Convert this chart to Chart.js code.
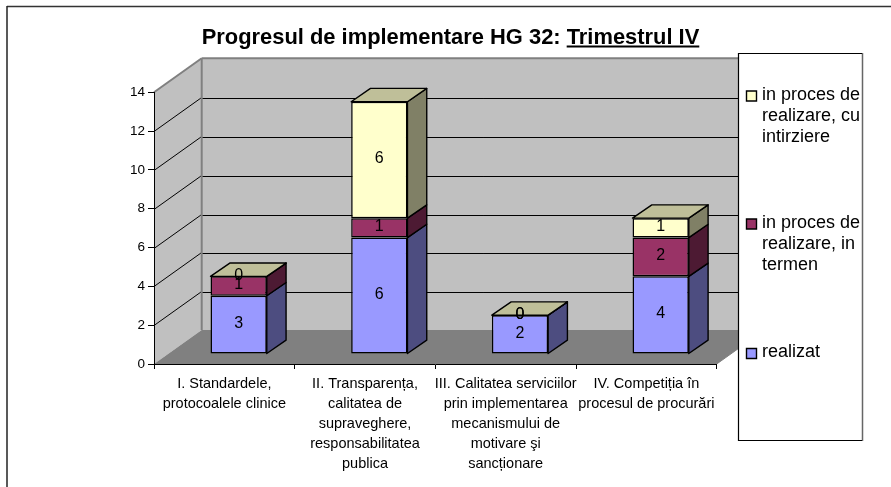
<!DOCTYPE html>
<html lang="ro">
<head>
    <meta charset="utf-8">
    <title>Progresul de implementare HG 32</title>
    <script src="https://cdn.jsdelivr.net/npm/chart.js"></script>
    <style>
        body { margin: 0; background: #fff; }
        canvas { display: block; }
    </style>
</head>
<body>
    <canvas id="chartCanvas" width="891" height="487"></canvas>
    <script>
        // chart data
        const categories = [
            ['I. Standardele,', 'protocoalele clinice'],
            ['II. Transparența,', 'calitatea de', 'supraveghere,', 'responsabilitatea', 'publica'],
            ['III. Calitatea serviciilor', 'prin implementarea', 'mecanismului de', 'motivare şi', 'sancționare'],
            ['IV. Competiția în', 'procesul de procurări']
        ];
        const seriesNames = ['realizat', 'in proces de realizare, in termen', 'in proces de realizare, cu intirziere'];
        const realizat = [3, 6, 2, 4];
        const inTermen = [1, 1, 0, 2];
        const cuIntirziere = [0, 6, 0, 1];
        const titleMain = 'Progresul de implementare HG 32: ';
        const titleUnderlined = 'Trimestrul IV';

        const FONT = '"Liberation Sans", Arial, sans-serif';
        const colors = ['#9999FF', '#993366', '#FFFFCC'];
        const wallDepth = { x: 47.7, y: -34 };   // front plane to back wall
        const barInset = { x: 14.3, y: -10 };    // front plane to front of the bars
        const barDepth = { x: 19.3, y: -13.3 };

        // darker version of a colour for the 3d faces
        function shade(hex, f) {
            const n = parseInt(hex.slice(1), 16);
            const r = Math.round((n >> 16 & 255) * f);
            const g = Math.round((n >> 8 & 255) * f);
            const b = Math.round((n & 255) * f);
            return `rgb(${r},${g},${b})`;
        }

        function poly(ctx, pts, fill, stroke, lw) {
            ctx.beginPath();
            pts.forEach((p, i) => i ? ctx.lineTo(p[0], p[1]) : ctx.moveTo(p[0], p[1]));
            ctx.closePath();
            if (fill) { ctx.fillStyle = fill; ctx.fill(); }
            if (stroke) { ctx.strokeStyle = stroke; ctx.lineWidth = lw; ctx.stroke(); }
        }

        function line(ctx, x1, y1, x2, y2, color, lw) {
            ctx.beginPath();
            ctx.moveTo(x1, y1);
            ctx.lineTo(x2, y2);
            ctx.strokeStyle = color;
            ctx.lineWidth = lw;
            ctx.stroke();
        }

        // split a legend name in lines that fit the box
        function wrap(ctx, text, maxWidth) {
            const lines = [];
            let cur = '';
            text.split(' ').forEach(word => {
                const test = cur ? cur + ' ' + word : word;
                if (ctx.measureText(test).width > maxWidth && cur) {
                    lines.push(cur);
                    cur = word;
                } else {
                    cur = test;
                }
            });
            lines.push(cur);
            return lines;
        }

        // walls, floor and gridlines behind the bars
        const wallsPlugin = {
            id: 'walls',
            beforeDraw(chart) {
                const ctx = chart.ctx;
                const a = chart.chartArea;
                const yScale = chart.scales.y;
                const dx = wallDepth.x, dy = wallDepth.y;
                ctx.save();
                ctx.fillStyle = '#fff';
                ctx.fillRect(0, 0, chart.width, chart.height);

                // outer frame, only top and left are in the picture
                line(ctx, 7, 6.5, 891, 6.5, '#333', 1.5);
                line(ctx, 7, 6, 7, 487, '#222', 1.5);

                poly(ctx, [[a.left, a.top], [a.left + dx, a.top + dy], [a.left + dx, a.bottom + dy], [a.left, a.bottom]], '#C0C0C0');
                poly(ctx, [[a.left + dx, a.top + dy], [a.right + dx, a.top + dy], [a.right + dx, a.bottom + dy], [a.left + dx, a.bottom + dy]], '#C0C0C0');
                poly(ctx, [[a.left, a.bottom], [a.left + dx, a.bottom + dy], [a.right + dx, a.bottom + dy], [a.right, a.bottom]], '#808080');

                yScale.ticks.forEach(t => {
                    if (t.value === 0 || t.value === yScale.max) return;
                    const y = Math.round(yScale.getPixelForValue(t.value)) + 0.5;
                    line(ctx, a.left, y, a.left + dx, y + dy, '#000', 1);
                    line(ctx, a.left + dx, Math.round(y + dy) + 0.5, a.right + dx, Math.round(y + dy) + 0.5, '#000', 1);
                });

                // wall edges
                line(ctx, a.left, a.top, a.left + dx, a.top + dy, '#808080', 2);
                line(ctx, a.left + dx, a.top + dy, a.right + dx, a.top + dy, '#808080', 2);
                line(ctx, a.left + dx, a.top + dy, a.left + dx, a.bottom + dy, '#808080', 2);
                line(ctx, a.right, a.bottom, a.right + dx, a.bottom + dy, '#808080', 1);
                ctx.restore();
            },
            // bars stand in the middle of the floor, not on the front plane
            beforeDatasetsDraw(chart) {
                chart.ctx.save();
                chart.ctx.translate(barInset.x, barInset.y);
            },
            afterDatasetsDraw(chart) {
                const ctx = chart.ctx;
                const dx = barDepth.x, dy = barDepth.y;
                const last = chart.data.datasets.length - 1;
                ctx.lineJoin = 'round';

                // side and top faces
                chart.data.datasets.forEach((ds, i) => {
                    chart.getDatasetMeta(i).data.forEach(bar => {
                        const l = bar.x - bar.width / 2;
                        const r = bar.x + bar.width / 2;
                        poly(ctx, [[r, bar.y], [r + dx, bar.y + dy], [r + dx, bar.base + dy], [r, bar.base]], shade(colors[i], 0.5), '#000', 1.4);
                        if (i === last) {
                            poly(ctx, [[l, bar.y], [l + dx, bar.y + dy], [r + dx, bar.y + dy], [r, bar.y]], shade(colors[i], 0.75), '#000', 1.4);
                        }
                    });
                });

                // value labels, zeros too
                ctx.fillStyle = '#000';
                ctx.font = '16px ' + FONT;
                ctx.textAlign = 'center';
                ctx.textBaseline = 'middle';
                chart.data.datasets.forEach((ds, i) => {
                    chart.getDatasetMeta(i).data.forEach((bar, j) => {
                        ctx.fillText(String(ds.data[j]), bar.x, (bar.y + bar.base) / 2 - 1);
                    });
                });
                ctx.restore();
            },
            afterDraw(chart) {
                const ctx = chart.ctx;
                ctx.save();

                // title with the underlined part
                ctx.fillStyle = '#000';
                ctx.font = 'bold 21.9px ' + FONT;
                ctx.textAlign = 'left';
                ctx.textBaseline = 'alphabetic';
                const w1 = ctx.measureText(titleMain).width;
                const w2 = ctx.measureText(titleUnderlined).width;
                const tx = 450.5 - (w1 + w2) / 2;
                ctx.fillText(titleMain, tx, 43.5);
                ctx.fillText(titleUnderlined, tx + w1, 43.5);
                line(ctx, tx + w1, 46.5, tx + w1 + w2, 46.5, '#000', 2);

                // legend box, it covers the end of the walls
                ctx.fillStyle = '#fff';
                ctx.fillRect(738.5, 53.5, 124, 387);
                line(ctx, 862.5, 53, 862.5, 441, '#666', 1.5);
                line(ctx, 738.5, 53.5, 862, 53.5, '#000', 1.2);
                line(ctx, 738.5, 53, 738.5, 441, '#000', 1.2);
                line(ctx, 738.5, 440.5, 862, 440.5, '#000', 1.2);

                const legendY = [95, 223, 352.5];
                ctx.font = '18px ' + FONT;
                ctx.textBaseline = 'middle';
                seriesNames.slice().reverse().forEach((name, i) => {
                    const c = colors[colors.length - 1 - i];
                    const y = legendY[i];
                    poly(ctx, [[746.5, y - 4], [756.5, y - 4], [756.5, y + 6], [746.5, y + 6]], c, '#000', 1.4);
                    ctx.fillStyle = '#000';
                    wrap(ctx, name, 100).forEach((txt, k) => ctx.fillText(txt, 762, y + k * 21));
                });
                ctx.restore();
            }
        };

        new Chart(document.getElementById('chartCanvas').getContext('2d'), {
            type: 'bar',
            data: {
                labels: categories,
                datasets: [realizat, inTermen, cuIntirziere].map((values, i) => ({
                    label: seriesNames[i],
                    data: values,
                    backgroundColor: colors[i],
                    borderColor: '#000',
                    borderWidth: 1.5,
                    borderSkipped: false,
                    barPercentage: 0.4,
                    categoryPercentage: 1
                }))
            },
            options: {
                responsive: false,
                animation: false,
                layout: { padding: { top: 92.3, right: 174.3 } },
                plugins: { legend: { display: false }, title: { display: false }, tooltip: { enabled: false } },
                scales: {
                    x: {
                        stacked: true,
                        afterFit(scale) { scale.height = 123; },
                        grid: { drawOnChartArea: false, color: '#000', tickLength: 5 },
                        border: { color: '#000' },
                        ticks: {
                            autoSkip: false,
                            maxRotation: 0,
                            minRotation: 0,
                            padding: 5,
                            color: '#000',
                            font: { family: FONT, size: 14.5, lineHeight: '20px' }
                        }
                    },
                    y: {
                        stacked: true,
                        min: 0,
                        max: 14,
                        afterFit(scale) { scale.width = 154; },
                        grid: { drawOnChartArea: false, color: '#000', tickLength: 6 },
                        border: { color: '#000' },
                        ticks: {
                            stepSize: 2,
                            padding: 3,
                            color: '#000',
                            font: { family: FONT, size: 13.5 }
                        }
                    }
                }
            },
            plugins: [wallsPlugin]
        });
    </script>
</body>
</html>
